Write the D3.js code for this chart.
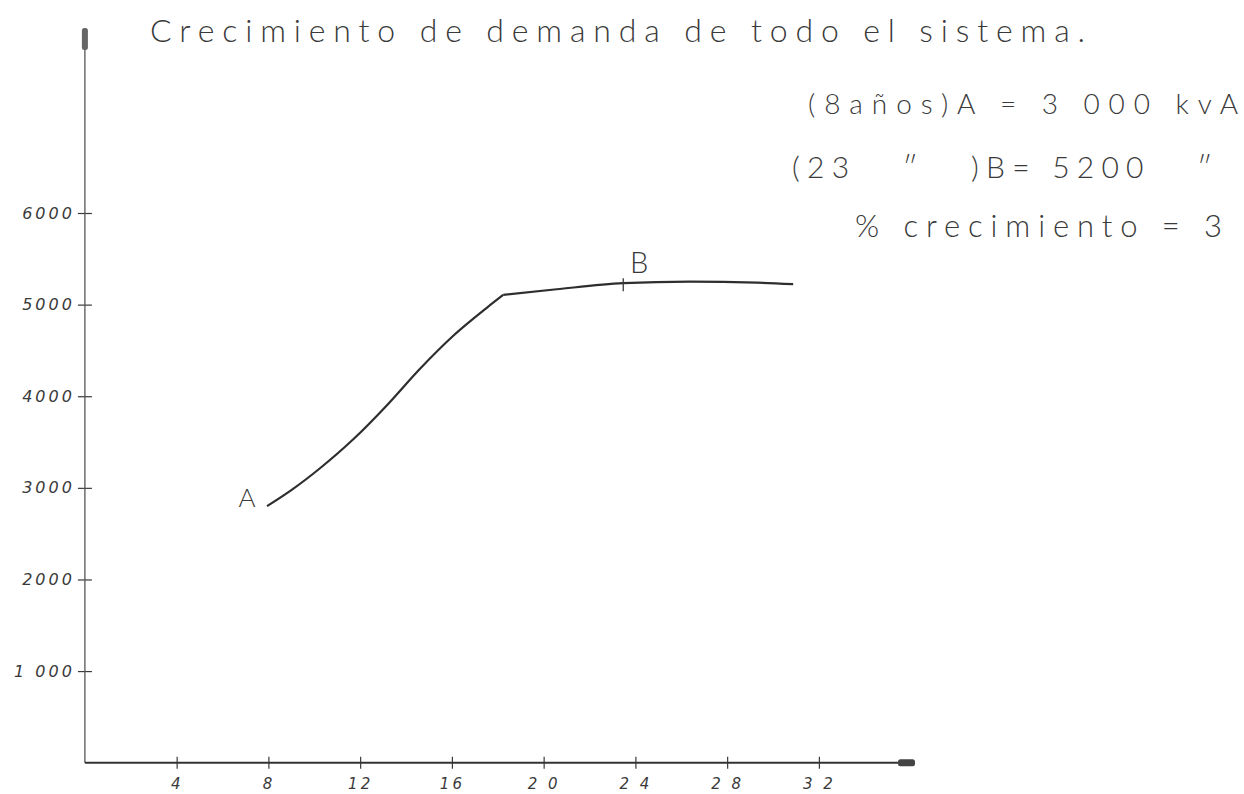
<!DOCTYPE html>
<html>
<head>
<meta charset="utf-8">
<script src="https://cdn.jsdelivr.net/npm/d3@7"></script>
<style>
  html, body { margin: 0; padding: 0; background: #fff; }
  svg { display: block; }
  text { font-family: "Lato", "Open Sans", "DejaVu Sans", sans-serif; fill: #3a3a3a; }
</style>
</head>
<body>
<svg id="chart" width="1244" height="794"></svg>
<script>
// ---- data ----
const riseYears   = [7.94, 9.0, 10.25, 11.7, 13.16, 14.61, 16.06, 17.52, 18.24];
const riseDemand  = [2800, 2975, 3214, 3530, 3900, 4300, 4660, 4965, 5106];
const flatYears   = [18.24, 20.57, 23.47, 26.38, 29.29, 30.88];
const flatDemand  = [5106, 5168, 5234, 5251, 5240, 5223];
const pointA = { year: 7.94, demand: 2800, label: "A" };
const pointB = { year: 23.47, demand: 5234, label: "B" };
const xTicks      = [4, 8, 12, 16, 20, 24, 28, 32];
const xTickLabels = ["4", "8", "12", "16", "2 0", "2 4", "2 8", "3 2"];
const yTicks      = [1000, 2000, 3000, 4000, 5000, 6000];
const yTickLabels = ["1 000", "2000", "3000", "4000", "5000", "6000"];
const titleText = "Crecimiento de demanda de todo el sistema.";
const noteLines = ["(8años)A = 3 000 kvA", "(23   \u2033   )B= 5200   \u2033", "% crecimiento = 3"];

const svg = d3.select("#chart");
const x = d3.scaleLinear().domain([0, 36.19]).range([84.9, 915]);
const y = d3.scaleLinear().domain([0, 6000]).range([762.7, 213]);

const ink = "#3a3a3a";

// y axis
const yAxis = svg.append("g").attr("transform", `translate(${x(0)},0)`)
  .call(d3.axisLeft(y).tickValues(yTicks).tickFormat((d, i) => yTickLabels[i]).tickSize(7).tickPadding(4));
yAxis.select(".domain").remove();
yAxis.selectAll(".tick line").attr("x1", 7).attr("x2", -7).attr("stroke", ink).attr("stroke-width", 1.2);
yAxis.selectAll(".tick text")
  .attr("font-size", 16).attr("font-style", "italic").attr("letter-spacing", 3)
  .attr("x", -10).attr("fill", "#444")
  .style("font-family", '"DejaVu Sans", sans-serif');
svg.append("line").attr("x1", x(0)).attr("x2", x(0)).attr("y1", 40).attr("y2", y(0))
  .attr("stroke", "#555").attr("stroke-width", 1.3);
svg.append("rect").attr("x", x(0) - 3).attr("y", 28).attr("width", 6).attr("height", 22).attr("rx", 2.5)
  .attr("fill", "#666");

// x axis
const xAxis = svg.append("g").attr("transform", `translate(0,${y(0)})`)
  .call(d3.axisBottom(x).tickValues(xTicks).tickFormat((d, i) => xTickLabels[i]).tickSize(6));
xAxis.select(".domain").remove();
xAxis.selectAll(".tick line").attr("y1", -6).attr("y2", 6).attr("stroke", ink).attr("stroke-width", 1.2);
xAxis.selectAll(".tick text")
  .attr("y", 26).attr("dy", null)
  .attr("font-size", 15).attr("font-style", "italic").attr("letter-spacing", 3).attr("fill", "#444")
  .style("font-family", '"DejaVu Sans", sans-serif');
svg.append("line").attr("x1", x(0)).attr("x2", x(36.19) - 12).attr("y1", y(0)).attr("y2", y(0))
  .attr("stroke", "#333").attr("stroke-width", 2);
svg.append("rect").attr("x", x(36.19) - 17).attr("y", y(0) - 3.5).attr("width", 17).attr("height", 7).attr("rx", 2.5)
  .attr("fill", "#444");

// curve
const line = d3.line().x(d => x(d[0])).y(d => y(d[1])).curve(d3.curveMonotoneX);
svg.append("path").datum(riseYears.map((v, i) => [v, riseDemand[i]]))
  .attr("d", line).attr("fill", "none").attr("stroke", "#2e2e2e").attr("stroke-width", 2.2);
svg.append("path").datum(flatYears.map((v, i) => [v, flatDemand[i]]))
  .attr("d", line).attr("fill", "none").attr("stroke", "#2e2e2e").attr("stroke-width", 2.2);

// point markers and labels
svg.append("line").attr("x1", x(pointB.year)).attr("x2", x(pointB.year))
  .attr("y1", y(pointB.demand) - 5).attr("y2", y(pointB.demand) + 8)
  .attr("stroke", ink).attr("stroke-width", 1.3);
svg.append("text").attr("x", x(pointB.year) + 16).attr("y", y(pointB.demand) - 10)
  .attr("text-anchor", "middle").attr("font-size", 29).attr("font-weight", 300).text(pointB.label);
svg.append("text").attr("x", x(pointA.year) - 20).attr("y", y(pointA.demand) + 1)
  .attr("text-anchor", "middle").attr("font-size", 26).attr("font-weight", 300).text(pointA.label);

// title
svg.append("text").attr("x", 150).attr("y", 42).attr("font-size", 32).attr("font-weight", 300)
  .attr("textLength", 935).attr("lengthAdjust", "spacing").text(titleText);

// notes
const notePos = [
  { x: 808, y: 114, w: 430, fs: 28 },
  { x: 792, y: 178, w: 420, fs: 30 },
  { x: 855, y: 237, w: 367, fs: 31 }
];
noteLines.forEach((t, i) => {
  const p = notePos[i];
  svg.append("text").attr("x", p.x).attr("y", p.y).attr("font-size", p.fs).attr("font-weight", 300)
    .attr("textLength", p.w).attr("lengthAdjust", "spacing")
    .style("white-space", "pre").attr("xml:space", "preserve").text(t);
});
</script>
</body>
</html>
